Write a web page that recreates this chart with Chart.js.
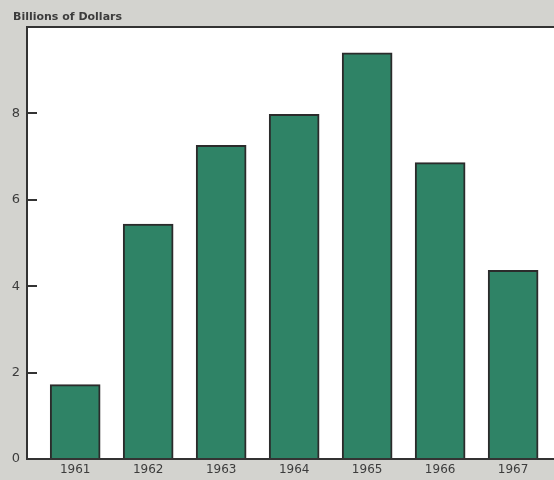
<!DOCTYPE html>
<html>
<head>
<meta charset="utf-8">
<script src="https://cdn.jsdelivr.net/npm/chart.js@4"></script>
<style>
  html, body { margin: 0; padding: 0; background: #d3d3cf; }
  #wrap { width: 554px; height: 480px; position: relative; }
</style>
</head>
<body>
<div id="wrap"><canvas id="c" width="554" height="480"></canvas></div>
<script>
// Annual amounts, billions of dollars
const years = [1961, 1962, 1963, 1964, 1965, 1966, 1967];
const values = [1.72, 5.44, 7.26, 7.98, 9.40, 6.86, 4.37];
const yTicks = [0, 2, 4, 6, 8];
const unitLabel = 'Billions of Dollars';

const ink = '#333333';
const textInk = '#3c3c3c';

// White panel, frame lines and inward tick marks
const framePlugin = {
  id: 'frame',
  beforeDraw(chart) {
    const { ctx, chartArea: a } = chart;
    ctx.save();
    ctx.fillStyle = '#ffffff';
    ctx.fillRect(a.left, a.top, a.right - a.left, a.bottom - a.top);
    ctx.restore();
  },
  afterDatasetsDraw(chart) {
    const { ctx, chartArea: a, scales } = chart;
    ctx.save();
    ctx.strokeStyle = ink;
    ctx.lineWidth = 2;
    ctx.beginPath();
    ctx.moveTo(a.right, a.top);
    ctx.lineTo(a.left, a.top);
    ctx.lineTo(a.left, a.bottom);
    ctx.lineTo(a.right, a.bottom);
    ctx.stroke();
    ctx.beginPath();
    yTicks.forEach(v => {
      if (v === 0) return;
      const y = Math.round(scales.y.getPixelForValue(v));
      ctx.moveTo(a.left, y);
      ctx.lineTo(a.left + 10, y);
    });
    ctx.stroke();
    ctx.fillStyle = textInk;
    ctx.font = '600 11px "DejaVu Sans", Verdana, sans-serif';
    ctx.textBaseline = 'alphabetic';
    ctx.textAlign = 'left';
    ctx.fillText(unitLabel, 13, 20);
    ctx.restore();
  }
};

new Chart(document.getElementById('c'), {
  type: 'bar',
  data: {
    datasets: [{
      data: years.map((yr, i) => ({ x: yr, y: values[i] })),
      backgroundColor: '#2f8366',
      borderColor: '#2b2b2b',
      borderWidth: 2,
      borderSkipped: 'bottom',
      barThickness: 50
    }]
  },
  options: {
    responsive: false,
    animation: false,
    devicePixelRatio: 1,
    layout: { padding: { top: 27, right: 0, bottom: 0, left: 0 } },
    plugins: { legend: { display: false }, tooltip: { enabled: false } },
    scales: {
      x: {
        type: 'linear',
        offset: false,
        min: 1960.34,
        max: 1967.56,
        grid: { display: false, drawTicks: false, offset: false },
        border: { display: false },
        afterBuildTicks(scale) { scale.ticks = years.map(v => ({ value: v })); },
        ticks: {
          padding: 4,
          color: textInk,
          font: { family: '"DejaVu Sans", Verdana, sans-serif', size: 12 },
          callback: v => String(v),
          maxRotation: 0,
          autoSkip: false
        },
        afterFit(scale) { scale.height = 21; }
      },
      y: {
        min: 0,
        max: 10,
        grid: { display: false, drawTicks: false },
        border: { display: false },
        afterBuildTicks(scale) { scale.ticks = yTicks.map(v => ({ value: v })); },
        ticks: {
          padding: 7,
          color: textInk,
          font: { family: '"DejaVu Sans", Verdana, sans-serif', size: 13 }
        },
        afterFit(scale) { scale.width = 27; }
      }
    }
  },
  plugins: [framePlugin]
});
</script>
</body>
</html>
